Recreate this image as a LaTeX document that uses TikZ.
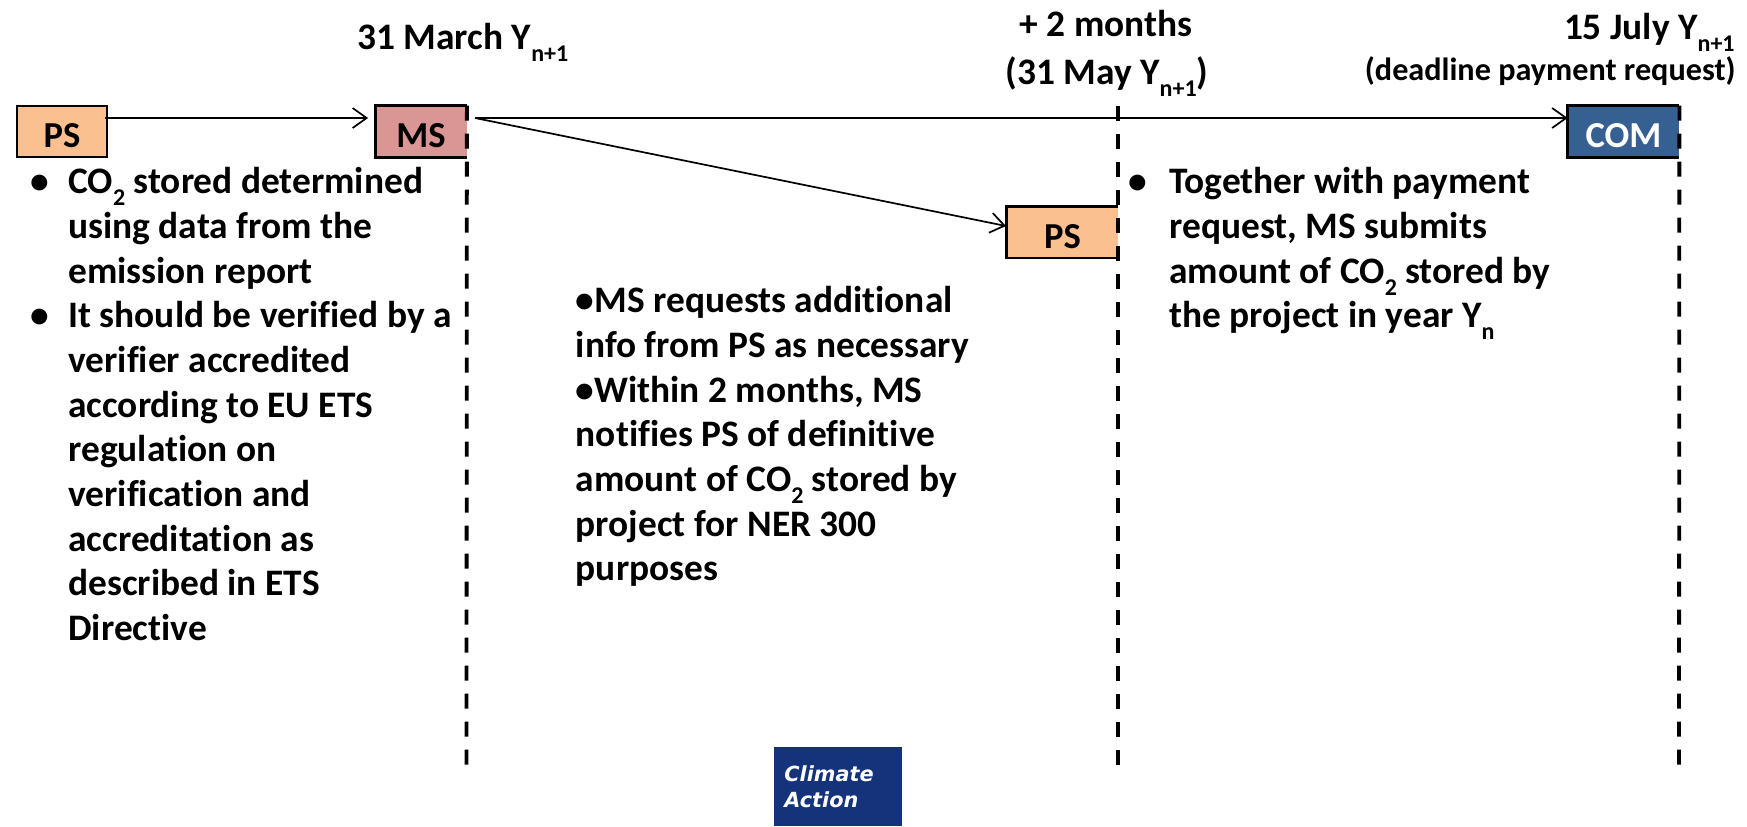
\documentclass[tikz,border=0pt]{standalone}
\usepackage{fontspec}
\setmainfont[Ligatures=CommonOff]{Carlito}
\newfontfamily\logofont{DejaVu Sans}
\usetikzlibrary{arrows.meta}
\definecolor{psfill}{HTML}{FAC090}
\definecolor{msfill}{HTML}{D99694}
\definecolor{comfill}{HTML}{376092}
\definecolor{logofill}{HTML}{14337A}
\def\lowtxt#1{\raisebox{-.32em}{\fontsize{12}{12}\selectfont #1}}
\def\bulletmark#1{\llap{\textbullet\hspace{#1}}}
\tikzset{
    stepbox/.style={inner sep=0pt,minimum height=25.5pt,text height=16pt,text depth=0pt,font=\bfseries\fontsize{18.3}{20}\selectfont},
    bodytext/.style={anchor=north west,inner sep=0pt,align=left,font=\bfseries\fontsize{18.7}{22.35}\selectfont},
    datetext/.style={inner sep=0pt,font=\bfseries\fontsize{18.7}{22.35}\selectfont},
    deadline/.style={line width=1.9pt,dash pattern=on 7.5pt off 6.5pt},
    flow/.style={line width=.85pt,-{Straight Barb[length=7pt,width=10pt]}},
}
\begin{document}
\begin{tikzpicture}[x=.5pt,y=-.5pt]
    \useasboundingbox (0,0) rectangle (1747,826);
    % boxes on the time line
    \node[stepbox,fill=psfill,draw,line width=1.4pt,minimum width=45pt] (psstart) at (62,131.5) {PS};
    \node[stepbox,fill=msfill,minimum width=45.5pt] (ms) at (421,131.5) {MS};
    \node[stepbox,fill=psfill,minimum width=55.5pt] (psnotice) at (1062.5,232) {PS};
    \node[stepbox,fill=comfill,text=white,minimum width=55.5pt] (com) at (1623.5,131.5) {COM};
    \foreach \n in {ms,psnotice,com} {
        \draw[line width=1.4pt] (\n.north east) -- (\n.north west) -- (\n.south west) -- (\n.south east);
    }
    % deadlines
    \coordinate (msbottom) at (466.5,766);
    \coordinate (maytop) at (1118,106);
    \coordinate (maybottom) at (1118,766);
    \coordinate (combottom) at (1679,766);
    \draw[deadline] (ms.north east) -- (msbottom);
    \draw[deadline] (maytop) -- (maybottom);
    \draw[deadline] (com.north east) -- (combottom);
    % arrows
    \coordinate (psout) at (105,118);
    \coordinate (msout) at (475,118);
    \coordinate (msin) at (ms.west |- psout);
    \coordinate (comin) at (com.west |- msout);
    \coordinate (psin) at (1006,226);
    \draw[flow,shorten >=3.5pt] (psout) -- (msin);
    \draw[flow] (msout) -- (comin);
    \draw[flow] (msout) -- (psin);
    % dates
    \node[datetext,anchor=west] (march) at (357,42) {31 March Y\lowtxt{n+1}};
    \node[datetext] (months) at (1106,24) {+ 2 months};
    \node[datetext] (may) at (1107,77) {(31 May Y\lowtxt{n+1})};
    \node[datetext,anchor=east] (july) at (1735,32) {15 July Y\lowtxt{n+1}};
    \node[inner sep=0pt,anchor=east,font=\bfseries\fontsize{16.1}{18}\selectfont] (request) at (1736,71) {(deadline payment request)};
    % texts
    \node[bodytext] (before) at (68,167) {\bulletmark{9.6pt}CO\lowtxt{2} stored determined\\
        using data from the\\
        emission report\\
        \bulletmark{9.6pt}It should be verified by a\\
        verifier accredited\\
        according to EU ETS\\
        regulation on\\
        verification and\\
        accreditation as\\
        described in ETS\\
        Directive};
    \node[bodytext] (between) at (575.5,286) {\textbullet MS requests additional\\
        info from PS as necessary\\
        \textbullet Within 2 months, MS\\
        notifies PS of definitive\\
        amount of CO\lowtxt{2} stored by\\
        project for NER 300\\
        purposes};
    \node[bodytext] (after) at (1169,167) {\bulletmark{11.3pt}Together with payment\\
        request, MS submits\\
        amount of CO\lowtxt{2} stored by\\
        the project in year Y\lowtxt{n}};
    % logo
    \node[fill=logofill,text=white,inner sep=0pt,minimum width=64pt,minimum height=39.5pt] (logo) at (838,786.5) {};
    \node[anchor=west,inner sep=0pt,align=left,text=white,font=\logofont\bfseries\itshape\fontsize{10.4}{13}\selectfont] (logotext) at (784,787) {Climate\\Action};
\end{tikzpicture}
\end{document}
